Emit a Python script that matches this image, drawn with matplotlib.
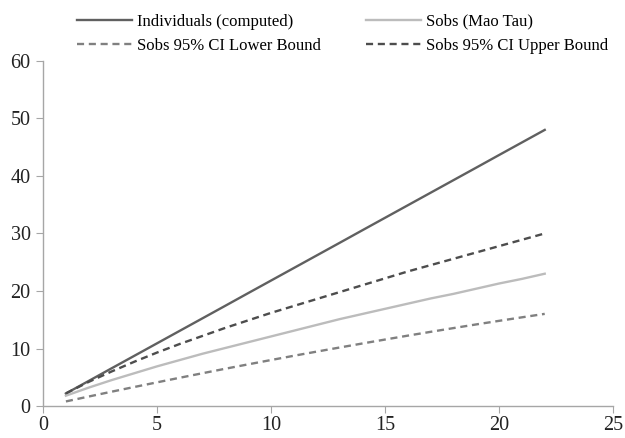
import numpy as np
import matplotlib.pyplot as plt

plt.rcParams['font.family'] = ['Liberation Serif', 'DejaVu Serif']

# sample number
samples = list(range(1, 23))

individuals = [2.18, 4.36, 6.55, 8.73, 10.91, 13.09, 15.27, 17.45, 19.64, 21.82, 24.0,
               26.18, 28.36, 30.55, 32.73, 34.91, 37.09, 39.27, 41.45, 43.64, 45.82, 48.0]
sobs = [1.8, 3.2, 4.5, 5.7, 6.9, 8.0, 9.1, 10.1, 11.1, 12.1, 13.1,
        14.1, 15.1, 16.0, 16.9, 17.8, 18.7, 19.5, 20.4, 21.3, 22.1, 23.0]
ci_lower = [0.8, 1.65, 2.49, 3.31, 4.12, 4.92, 5.71, 6.49, 7.25, 8.0, 8.74,
            9.46, 10.17, 10.87, 11.56, 12.24, 12.9, 13.55, 14.19, 14.81, 15.42, 16.02]
ci_upper = [2.2, 4.2, 6.0, 7.7, 9.3, 10.8, 12.2, 13.6, 14.9, 16.2, 17.4,
            18.6, 19.8, 21.0, 22.2, 23.4, 24.5, 25.6, 26.7, 27.8, 28.9, 30.0]

fig = plt.figure(figsize=(6.25, 4.38), dpi=100)
ax = fig.add_axes([0.069, 0.073, 0.912, 0.788])

ax.plot(samples, individuals, color='#606060', lw=1.7, label='Individuals (computed)')
ax.plot(samples, sobs, color='#bcbcbc', lw=1.7, label='Sobs (Mao Tau)')
ax.plot(samples, ci_lower, color='#808080', lw=1.7, ls=(0, (3, 2)), label='Sobs 95% CI Lower Bound')
ax.plot(samples, ci_upper, color='#4d4d4d', lw=1.7, ls=(0, (3, 2)), label='Sobs 95% CI Upper Bound')

ax.set_xlim(0, 25)
ax.set_ylim(0, 60)
ax.set_xticks(range(0, 26, 5))
ax.set_yticks(range(0, 61, 10))

for s in ['top', 'right']:
    ax.spines[s].set_visible(False)
for s in ['left', 'bottom']:
    ax.spines[s].set_color('#a6a6a6')
    ax.spines[s].set_linewidth(1)
ax.tick_params(direction='out', length=5, color='#a6a6a6', labelsize=14.5,
               labelcolor='#222222', pad=4)
ax.tick_params(axis='x', pad=2)

# legend over the plot, two columns
h, l = ax.get_legend_handles_labels()
order = [0, 2, 1, 3]
fig.legend([h[i] for i in order], [l[i] for i in order], ncol=2, frameon=False,
           loc='upper left', bbox_to_anchor=(0.099, 1.003), fontsize=12,
           handlelength=3.3, handletextpad=0.3, columnspacing=2.7, labelspacing=0.49)

plt.savefig('out.png')
